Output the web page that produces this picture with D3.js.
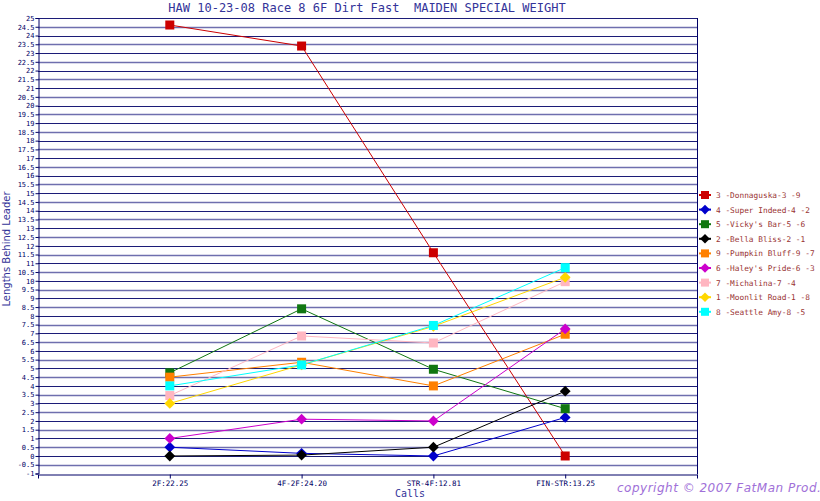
<!DOCTYPE html>
<html><head><meta charset="utf-8">
<script src="https://cdn.jsdelivr.net/npm/d3@7"></script>
<style>body{margin:0;background:#fff}svg{display:block}</style>
</head><body>
<script>
const calls = ["2F:22.25", "4F-2F:24.20", "STR-4F:12.81", "FIN-STR:13.25"];
const yTicks = d3.range(-1, 25.01, 0.5);
const horseNames = ["3 -Donnaguska-3 -9", "4 -Super Indeed-4 -2", "5 -Vicky's Bar-5 -6", "2 -Bella Bliss-2 -1", "9 -Pumpkin Bluff-9 -7", "6 -Haley's Pride-6 -3", "7 -Michalina-7 -4", "1 -Moonlit Road-1 -8", "8 -Seattle Amy-8 -5"];
const donnaguska = [24.6, 23.4, 11.6, 0];
const superIndeed = [0.5, 0.15, 0, 2.2];
const vickysBar = [4.75, 8.4, 4.95, 2.7];
const bellaBliss = [0, 0.05, 0.5, 3.7];
const pumpkinBluff = [4.5, 5.35, 4.0, 6.95];
const haleysPride = [1.0, 2.1, 2.0, 7.25];
const michalina = [3.45, 6.85, 6.45, 9.95];
const moonlitRoad = [3.0, 5.2, 7.4, 10.2];
const seattleAmy = [4.0, 5.2, 7.45, 10.75];
const seriesValues = [donnaguska, superIndeed, vickysBar, bellaBliss, pumpkinBluff, haleysPride, michalina, moonlitRoad, seattleAmy];
const colors = ["#cc0000", "#0000cc", "#117711", "#000000", "#ff8000", "#cc00cc", "#ffb6c1", "#ffd700", "#00ffff"];
const shapes = ["square", "diamond", "square", "diamond", "square", "diamond", "square", "diamond", "square"];

const W = 820, H = 501;
const L = 38, R = 697, T = 18, B = 473.5;
const svg = d3.select("body").append("svg").attr("width", W).attr("height", H);

const x = d3.scalePoint().domain(calls).range([L, R]).padding(1);
const y = d3.scaleLinear().domain([-1, 25]).range([B, T]);

// grid
svg.append("g").selectAll("line").data(yTicks.filter(v => v > -1)).join("line")
  .attr("x1", L).attr("x2", R)
  .attr("y1", d => Math.round(y(d)) + 0.5).attr("y2", d => Math.round(y(d)) + 0.5)
  .attr("stroke", (d, i) => i % 2 ? "#1c1c78" : "#6f6fae").attr("stroke-width", (d, i) => i % 2 ? 1 : 1.6);

// y axis
const ya = d3.axisLeft(y).tickValues(yTicks).tickSize(3).tickFormat(d => d3.format("")(d).replace("−", "-"));
const gy = svg.append("g").attr("transform", `translate(${L + 0.5},0)`).call(ya);
gy.select(".domain").attr("stroke", "#000066");
gy.selectAll(".tick line").attr("stroke", "#000066");
gy.selectAll(".tick text").attr("fill", "#000066").attr("font-family", "DejaVu Sans Mono").attr("font-size", "7px").attr("x", -4);

// x axis
const xa = d3.axisBottom(x).tickSize(4).tickPadding(2);
const gx = svg.append("g").attr("transform", `translate(0,${Math.round(B) + 0.5})`).call(xa);
gx.select(".domain").attr("stroke", "#000066");
gx.selectAll(".tick line").attr("stroke", "#000066");
gx.selectAll(".tick text").attr("fill", "#000066").attr("font-family", "DejaVu Sans Mono").attr("font-size", "7.5px");

// right border
svg.append("line").attr("x1", R + 0.5).attr("x2", R + 0.5).attr("y1", T).attr("y2", Math.round(B) + 0.5).attr("stroke", "#000066");

// series
const line = d3.line().x((d, i) => x(calls[i])).y(d => y(d));
function marker(g, shape, color, cx, cy, s) {
  if (shape === "square") {
    g.append("rect").attr("x", cx - s / 2).attr("y", cy - s / 2).attr("width", s).attr("height", s).attr("fill", color);
  } else {
    const r = s * 0.6;
    g.append("path").attr("d", `M${cx},${cy - r}L${cx + r},${cy}L${cx},${cy + r}L${cx - r},${cy}Z`).attr("fill", color);
  }
}
seriesValues.forEach((vals, k) => {
  const g = svg.append("g");
  g.append("path").attr("d", line(vals)).attr("fill", "none").attr("stroke", colors[k]).attr("stroke-width", 1);
  vals.forEach((v, i) => marker(g, shapes[k], colors[k], x(calls[i]), y(v), 9));
});

// legend
const lg = svg.append("g");
horseNames.forEach((n, k) => {
  const yy = 195 + k * 14.6;
  lg.append("line").attr("x1", 699).attr("x2", 711).attr("y1", yy).attr("y2", yy).attr("stroke", colors[k]).attr("stroke-width", 2);
  marker(lg, shapes[k], colors[k], 705, yy, 8);
  lg.append("text").attr("x", 716).attr("y", yy + 3).text(n)
    .attr("font-family", "DejaVu Sans Mono").attr("font-size", "7.8px").attr("fill", "#993333");
});

// titles
svg.append("text").attr("x", 367).attr("y", 12).attr("text-anchor", "middle")
  .attr("font-family", "DejaVu Sans Mono").attr("font-size", "12px").attr("fill", "#333399")
  .attr("xml:space", "preserve").style("white-space", "pre")
  .text("HAW 10-23-08 Race 8 6F Dirt Fast  MAIDEN SPECIAL WEIGHT");
svg.append("text").attr("transform", "translate(10,249) rotate(-90)").attr("text-anchor", "middle")
  .attr("font-family", "DejaVu Sans").attr("font-size", "10px").attr("fill", "#333399")
  .text("Lengths Behind Leader");
svg.append("text").attr("x", 410).attr("y", 497).attr("text-anchor", "middle")
  .attr("font-family", "DejaVu Sans Mono").attr("font-size", "10px").attr("fill", "#333399").text("Calls");
svg.append("text").attr("x", 617).attr("y", 492)
  .attr("font-family", "DejaVu Sans").attr("font-style", "italic").attr("font-size", "12px").attr("font-weight", "300")
  .attr("fill", "#a070d8").attr("letter-spacing", "0.5").text("copyright © 2007 FatMan Prod.");
</script>
</body></html>
